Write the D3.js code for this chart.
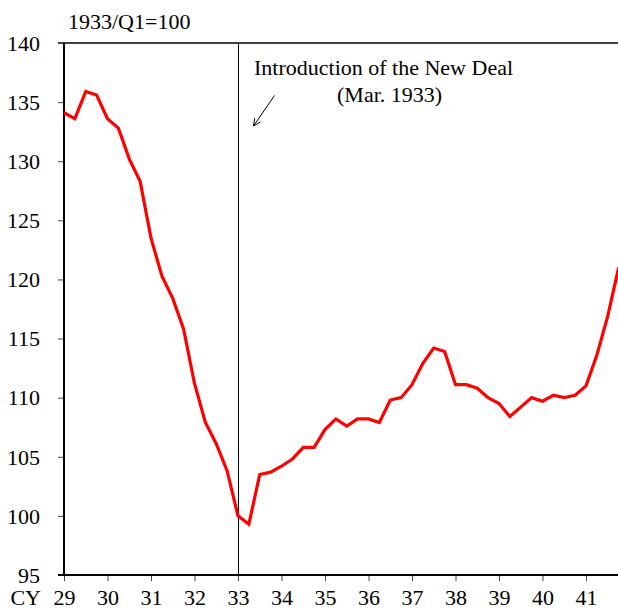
<!DOCTYPE html>
<html>
<head>
<meta charset="utf-8">
<script src="https://cdn.jsdelivr.net/npm/d3@7"></script>
<style>
  body { margin: 0; background: #fff; }
</style>
</head>
<body>
<svg id="chart" width="618" height="610"></svg>
<script>
// quarterly index, 1929/Q1 .. 1941/Q4 (1933/Q1 = 100)
var years = [29, 30, 31, 32, 33, 34, 35, 36, 37, 38, 39, 40, 41]
var yTicks = [95, 100, 105, 110, 115, 120, 125, 130, 135, 140]
var values = [
  134.1, 133.6, 135.9, 135.6,   // 1929
  133.6, 132.8, 130.2, 128.3,   // 1930
  123.5, 120.3, 118.4, 115.8,   // 1931
  111.2, 107.9, 106.1, 103.8,   // 1932
  100.0,  99.3, 103.5, 103.7,   // 1933
  104.2, 104.8, 105.8, 105.8,   // 1934
  107.3, 108.2, 107.6, 108.2,   // 1935
  108.2, 107.9, 109.8, 110.0,   // 1936
  111.1, 112.9, 114.2, 113.9,   // 1937
  111.1, 111.1, 110.8, 110.0,   // 1938
  109.5, 108.4, 109.2, 110.0,   // 1939
  109.7, 110.2, 110.0, 110.2,   // 1940
  111.0, 113.6, 116.9, 121.0    // 1941
]
var unitLabel = "1933/Q1=100"
var noteLines = ["Introduction of the New Deal", "(Mar. 1933)"]
var eventTime = 33   // 1933/Q1

var serif = '"Liberation Serif", "Times New Roman", serif'
var fontSize = "22px"

var svg = d3.select("#chart")
var margin = {top: 43, left: 64, bottom: 575}

var xScale = d3.scaleLinear()
               .domain([29, 41.75])
               .range([margin.left, margin.left + 12.75 * 43.5])

var yScale = d3.scaleLinear()
               .domain([95, 140])
               .range([margin.bottom, margin.top])

// top frame line
svg.append("line")
   .attr("x1", margin.left - 6).attr("x2", 618)
   .attr("y1", yScale(140)).attr("y2", yScale(140))
   .attr("stroke", "black").attr("stroke-width", 1.5)

// y axis
var yAxis = d3.axisLeft(yScale).tickValues(yTicks).tickSize(6)
var gy = svg.append("g").attr("transform", "translate(" + margin.left + ",0)").call(yAxis)
gy.attr("font-family", serif).attr("font-size", fontSize)
gy.select(".domain").remove()
gy.selectAll(".tick line").attr("stroke", "#444")
gy.selectAll("text").attr("fill", "black").attr("x", -24).attr("dy", "0.33em")

// x axis
var xAxis = d3.axisBottom(xScale).tickValues(years).tickSize(6).tickPadding(8)
  .tickFormat(function (d) { return d })
var gx = svg.append("g").attr("transform", "translate(0," + margin.bottom + ")").call(xAxis)
gx.attr("font-family", serif).attr("font-size", fontSize)
gx.select(".domain").remove()
gx.selectAll(".tick line").attr("stroke", "#444")
gx.selectAll("text").attr("fill", "black")
svg.append("text")
   .attr("x", 41).attr("y", 605)
   .attr("font-family", serif).attr("font-size", fontSize)
   .style("text-anchor", "end")
   .text("CY")

// axis lines
svg.append("line")
   .attr("x1", margin.left).attr("x2", margin.left)
   .attr("y1", yScale(140)).attr("y2", yScale(95))
   .attr("stroke", "black").attr("stroke-width", 2)
svg.append("line")
   .attr("x1", margin.left - 6).attr("x2", 618)
   .attr("y1", yScale(95)).attr("y2", yScale(95))
   .attr("stroke", "black").attr("stroke-width", 2)

// New Deal marker
svg.append("line")
   .attr("x1", Math.round(xScale(eventTime)) + 0.5).attr("x2", Math.round(xScale(eventTime)) + 0.5)
   .attr("y1", yScale(140)).attr("y2", yScale(95))
   .attr("stroke", "black").attr("stroke-width", 1)

// series line
var line = d3.line()
  .x(function (d, i) { return xScale(29 + i / 4) })
  .y(function (d) { return yScale(d) })

svg.append("path")
   .datum(values)
   .attr("d", line)
   .attr("fill", "none")
   .attr("stroke", "#ff0000")
   .attr("stroke-width", 3.2)

// unit label
svg.append("text")
   .attr("x", 68).attr("y", 29)
   .attr("font-family", serif).attr("font-size", fontSize)
   .text(unitLabel)

// annotation
svg.append("text")
   .attr("x", 254).attr("y", 75)
   .attr("font-family", serif).attr("font-size", fontSize)
   .text(noteLines[0])
svg.append("text")
   .attr("x", 337).attr("y", 102)
   .attr("font-family", serif).attr("font-size", fontSize)
   .text(noteLines[1])

// arrow
var ax1 = 274.5, ay1 = 95.5, ax2 = 253.5, ay2 = 126
svg.append("line")
   .attr("x1", ax1).attr("y1", ay1).attr("x2", ax2).attr("y2", ay2)
   .attr("stroke", "black").attr("stroke-width", 1)
var ang = Math.atan2(ay2 - ay1, ax2 - ax1)
var headLen = 8
;[-0.45, 0.45].forEach(function (off) {
  svg.append("line")
     .attr("x1", ax2).attr("y1", ay2)
     .attr("x2", ax2 - headLen * Math.cos(ang + off))
     .attr("y2", ay2 - headLen * Math.sin(ang + off))
     .attr("stroke", "black").attr("stroke-width", 1)
})
</script>
</body>
</html>
